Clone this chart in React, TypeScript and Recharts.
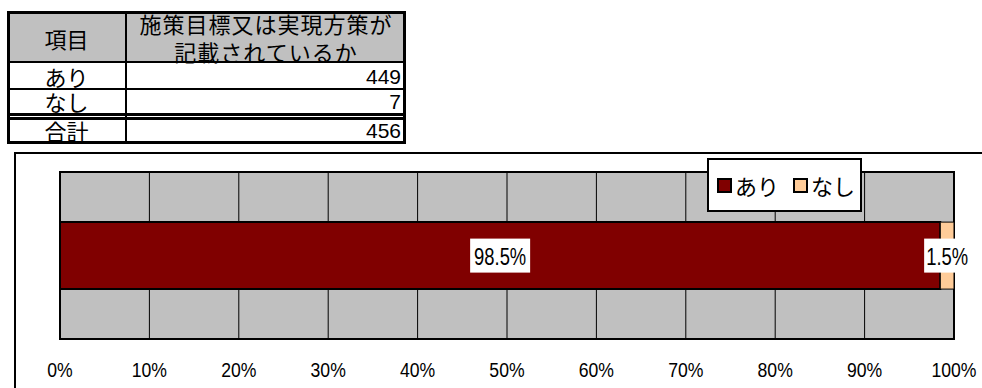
import React from 'react';
import { BarChart, Bar, XAxis, YAxis, CartesianGrid, Legend, LabelList, ReferenceArea } from 'recharts';

const categories = ['施策目標又は実現方策が記載されているか'];
const seriesNames = ['あり', 'なし'];
const ariCounts = [449];
const nashiCounts = [7];
const xTicks = [0, 0.1, 0.2, 0.3, 0.4, 0.5, 0.6, 0.7, 0.8, 0.9, 1];
const colors = ['#800000', '#FFCC99'];

const total = ariCounts[0] + nashiCounts[0];
const data = categories.map((name, i) => ({ name, ari: ariCounts[i], nashi: nashiCounts[i] }));

const jp = "'Noto Sans CJK JP', sans-serif";
const arial = "'Liberation Sans', Arial, sans-serif";

const pct = (v: number) => ((v / total) * 100).toFixed(1) + '%';

// Excel labels look like a condensed Arial, so squeeze Liberation Sans a bit
const BoxLabel = (props: any) => {
  const { x, y, width, height, value } = props;
  const cx = x + width / 2;
  const cy = y + height / 2;
  const text = pct(value);
  const w = text.length * 14 - 10;
  return (
    <g>
      <rect x={cx - w / 2} y={cy - 17} width={w} height={34} fill="#fff" />
      <g transform={`translate(${cx},${cy + 1})`}>
        <text transform="scale(0.8,1)" textAnchor="middle" dominantBaseline="central" fontSize={23} fontFamily={arial} fill="#000">
          {text}
        </text>
      </g>
    </g>
  );
};

const PctTick = (props: any) => {
  const { x, y, payload } = props;
  return (
    <g transform={`translate(${x},${y})`}>
      <text transform="scale(0.84,1)" textAnchor="middle" dy="0.71em" fontSize={21} fontFamily={arial} fill="#000">
        {Math.round(payload.value * 100) + '%'}
      </text>
    </g>
  );
};

const LegendBox = () => (
  <div style={{ width: 151, height: 50, border: '2px solid #000', background: '#fff', display: 'flex', alignItems: 'center', fontFamily: jp, fontSize: 22 }}>
    {seriesNames.map((n, i) => (
      <div key={n} style={{ display: 'flex', alignItems: 'center', marginLeft: i === 0 ? 8 : 14 }}>
        <span style={{ width: 11, height: 11, border: '2px solid #000', background: colors[i], display: 'inline-block', marginRight: 3 }} />
        <span style={{ lineHeight: '22px' }}>{n}</span>
      </div>
    ))}
  </div>
);

const abs = (s: React.CSSProperties): React.CSSProperties => ({ position: 'absolute', ...s });

const App = () => {
  const rows = [
    { label: seriesNames[0], value: ariCounts[0], cy: 77 },
    { label: seriesNames[1], value: nashiCounts[0], cy: 102 },
    { label: '合計', value: total, cy: 131 },
  ];
  return (
    <div style={abs({ left: 0, top: 0, width: 982, height: 388, overflow: 'hidden', background: '#fff' })}>
      {/* table */}
      <div style={abs({ left: 7, top: 11, width: 399, height: 51, background: '#C0C0C0' })} />
      <div style={abs({ left: 7, top: 11, width: 399, height: 133, border: '3px solid #000', boxSizing: 'border-box' })} />
      <div style={abs({ left: 125, top: 11, width: 2, height: 133, background: '#000' })} />
      <div style={abs({ left: 7, top: 61, width: 399, height: 2, background: '#000' })} />
      <div style={abs({ left: 7, top: 88, width: 399, height: 2, background: '#000' })} />
      <div style={abs({ left: 7, top: 113, width: 399, height: 3, background: '#000' })} />
      <div style={abs({ left: 7, top: 117, width: 399, height: 3, background: '#000' })} />
      <div style={abs({ left: 7, top: 27, width: 119, textAlign: 'center', fontFamily: jp, fontSize: 22, lineHeight: '22px' })}>項目</div>
      <div style={abs({ left: 126, top: 9, width: 280, textAlign: 'center', fontFamily: jp, fontSize: 22, lineHeight: '28px', letterSpacing: 1 })}>
        施策目標又は実現方策が
        <br />
        記載されているか
      </div>
      {rows.map((r) => (
        <React.Fragment key={r.label}>
          <div style={abs({ left: 7, top: r.cy - 12, width: 119, textAlign: 'center', fontFamily: jp, fontSize: 22, lineHeight: '22px' })}>{r.label}</div>
          <div style={abs({ left: 126, top: r.cy - 11, width: 275, textAlign: 'right', fontFamily: arial, fontSize: 21, lineHeight: '21px' })}>{r.value}</div>
        </React.Fragment>
      ))}

      {/* chart frame */}
      <div style={abs({ left: 14, top: 152, width: 1000, height: 300, borderLeft: '2px solid #000', borderTop: '2px solid #000' })} />

      <div style={abs({ left: 0, top: 140, width: 982, height: 248 })}>
        <BarChart
          width={982}
          height={248}
          layout="vertical"
          data={data}
          stackOffset="expand"
          barCategoryGap="30%"
          margin={{ top: 32, right: 28, left: 60, bottom: 0 }}
        >
          <CartesianGrid horizontal={false} stroke="#000" strokeWidth={1} fill="#C0C0C0" fillOpacity={1} />
          <XAxis
            type="number"
            domain={[0, 1]}
            ticks={xTicks}
            axisLine={false}
            tickLine={false}
            tickSize={0}
            tickMargin={23}
            height={49}
            interval={0}
            tick={PctTick}
          />
          <YAxis type="category" dataKey="name" hide />
          <ReferenceArea x1={0} x2={1} fill="none" stroke="#000" strokeWidth={2} ifOverflow="visible" />
          <Bar dataKey="ari" name={seriesNames[0]} stackId="a" fill={colors[0]} stroke="#000" strokeWidth={2} isAnimationActive={false}>
            <LabelList dataKey="ari" content={BoxLabel} />
          </Bar>
          <Bar dataKey="nashi" name={seriesNames[1]} stackId="a" fill={colors[1]} stroke="#000" strokeWidth={1} isAnimationActive={false}>
            <LabelList dataKey="nashi" content={BoxLabel} />
          </Bar>
          <Legend
            layout="horizontal"
            verticalAlign="middle"
            content={() => <LegendBox />}
            wrapperStyle={{ left: 707, top: 18, width: 155, height: 54 }}
          />
        </BarChart>
      </div>
    </div>
  );
};

export default App;
